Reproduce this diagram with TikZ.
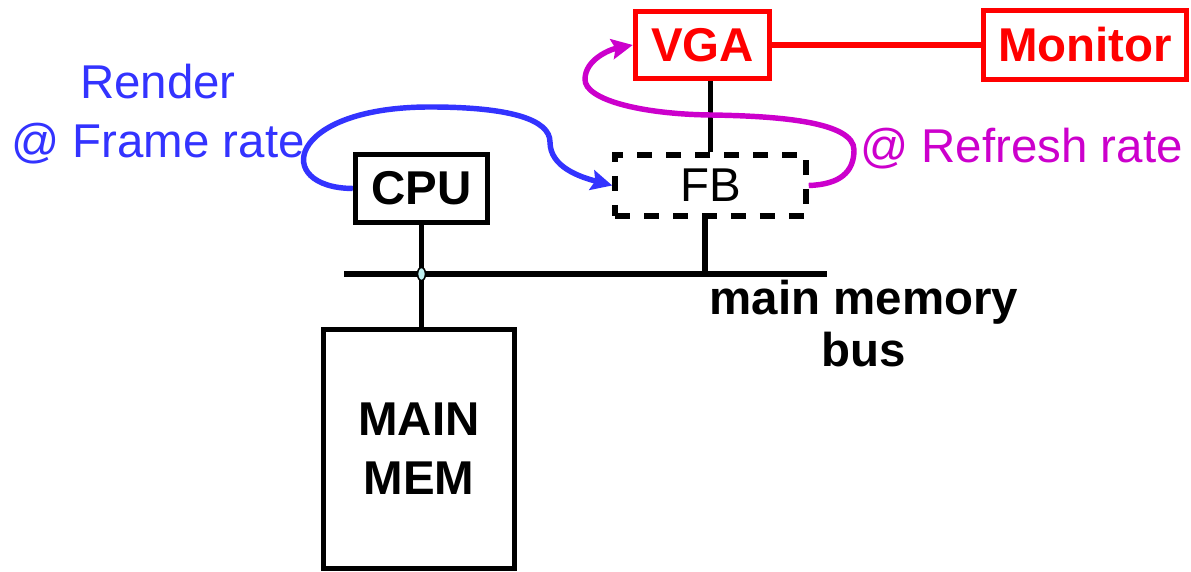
\documentclass[tikz,border=0pt]{standalone}
\usepackage{fontspec}
\setmainfont{Liberation Sans}
\usetikzlibrary{arrows.meta,shapes.geometric}
\definecolor{renderblue}{HTML}{3333FF}
\definecolor{refreshpink}{HTML}{CC00CC}
\definecolor{junctioncyan}{HTML}{BFEFEF}
\tikzset{
  hwbox/.style={draw, line width=3.1pt, inner sep=0pt, align=center, font=\fontsize{27}{33.5}\selectfont\bfseries},
  videobox/.style={hwbox, draw=red, text=red},
  fbbox/.style={draw, line width=3.1pt, dash pattern=on 8.5pt off 8pt, inner sep=0pt, font=\fontsize{27}{33.5}\selectfont},
  wire/.style={line width=3.1pt},
  videowire/.style={wire, red},
  junction/.style={ellipse, draw, line width=0.9pt, fill=junctioncyan, minimum width=4.5pt, minimum height=7.5pt, inner sep=0pt},
  flow/.style={line width=3.1pt, -{Stealth[length=12pt,width=11.5pt,inset=2pt]}},
  ratelabel/.style={align=center, font=\fontsize{27}{33.5}\selectfont},
  buslabel/.style={align=center, font=\fontsize{27}{29.5}\selectfont\bfseries}
}

\begin{document}
\begin{tikzpicture}
  \useasboundingbox (0,0) rectangle (23.82,11.44);

  % display side
  \node[videobox, minimum width=2.68cm, minimum height=1.35cm] (vga) at (14.05,10.54) {VGA};
  \node[videobox, minimum width=4.05cm, minimum height=1.38cm] (monitor) at (21.70,10.54) {Monitor};
  \node[fbbox, minimum width=3.82cm, minimum height=1.22cm] (fb) at (14.21,7.73) {FB};

  % processor and memory
  \node[hwbox, minimum width=2.64cm, minimum height=1.36cm] (cpu) at (8.43,7.67) {CPU};
  \node[hwbox, minimum width=3.82cm, minimum height=4.78cm] (mem) at (8.38,2.46) {MAIN\\MEM};

  % bus and wires
  \coordinate (busL) at (6.88,5.96);
  \coordinate (busR) at (16.54,5.96);
  \draw[wire] (busL) -- (busR);
  \draw[wire] (cpu.south) -- (cpu.south |- mem.north);
  \draw[wire] ([xshift=-0.11cm]fb.south) -- ([xshift=-0.11cm]fb.south |- busL);
  \draw[wire] (fb.north) -- (fb.north |- vga.south);
  \draw[videowire] (vga.east) -- (monitor.west);
  \node[junction] (tap) at (cpu.south |- busL) {};
  \node[buslabel] (buslbl) at (17.28,4.97) {main memory\\bus};

  % rates
  \node[ratelabel, text=renderblue] (render) at (3.16,9.16) {Render\\@ Frame rate};
  \node[ratelabel, text=refreshpink, anchor=base west] (refresh) at (17.08,8.18) {@ Refresh rate};
  \draw[flow, renderblue] (cpu.west) .. controls (5.45,7.68) and (5.7,9.30) .. (8.6,9.30)
    .. controls (10.2,9.30) and (11.0,9.05) .. (11.0,8.6)
    .. controls (11.0,8.1) and (11.6,7.9) .. (fb.west);
  \draw[flow, refreshpink] (fb.east) .. controls (16.8,7.75) and (17.08,8.0) .. (17.08,8.44)
    .. controls (17.08,9.0) and (15.6,9.12) .. (14.2,9.14)
    .. controls (12.8,9.16) and (11.7,9.45) .. (11.7,9.85)
    .. controls (11.7,10.25) and (12.2,10.45) .. (vga.west);
\end{tikzpicture}
\end{document}
